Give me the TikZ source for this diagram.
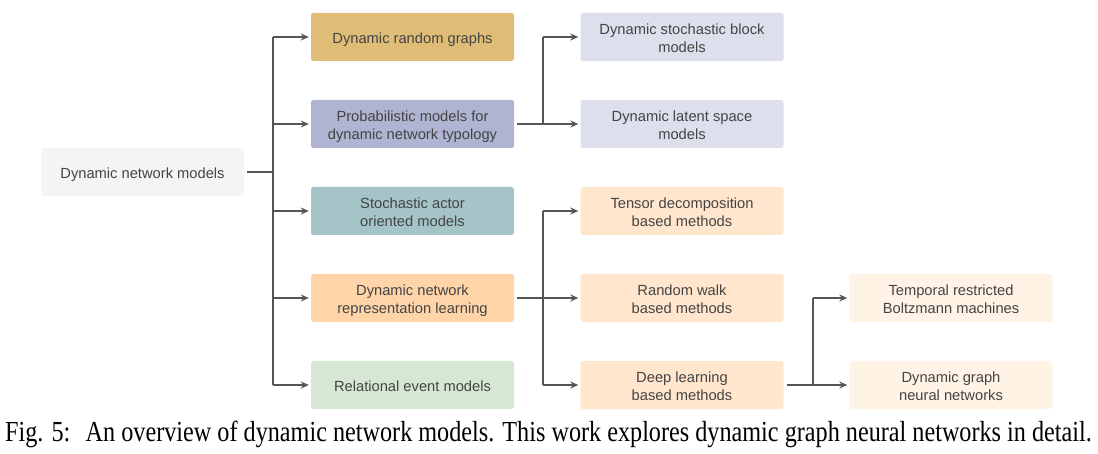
\documentclass[tikz,border=0pt]{standalone}
\usepackage{fontspec}
\setmainfont{Liberation Serif}
\setsansfont{Liberation Sans}
\usetikzlibrary{arrows.meta}
\definecolor{cRoot}{HTML}{F4F4F4}
\definecolor{cDRG}{HTML}{DFBD76}
\definecolor{cPM}{HTML}{AEB4D1}
\definecolor{cSAO}{HTML}{A5C4C8}
\definecolor{cDNRL}{HTML}{FFD4A9}
\definecolor{cREM}{HTML}{D6E8D4}
\definecolor{cBlue}{HTML}{DDE0EC}
\definecolor{cOr}{HTML}{FFE6CC}
\definecolor{cLt}{HTML}{FFF3E6}
\definecolor{cTxt}{HTML}{444444}
\definecolor{cLine}{HTML}{555555}
\newcommand{\bt}[1]{\raisebox{-2.5pt}[\height][\depth]{\begin{tabular}{@{}c@{}}#1\end{tabular}}}
\tikzset{
  box/.style={rounded corners=2.5pt, minimum width=203pt, minimum height=48pt,
    inner sep=0pt, text=cTxt,
    font=\sffamily\fontsize{14.7}{18}\selectfont},
  link/.style={draw=cLine, line width=1.3pt},
  arr/.style={link, -{Stealth[length=8pt,width=7pt]}}
}
\begin{document}
\begin{tikzpicture}[x=1pt,y=-1pt]
\useasboundingbox (0,0) rectangle (1098,454);
\node[box, fill=cRoot] (root) at (142.5,172) {\bt{Dynamic network models}};
\node[box, fill=cDRG] (drg) at (412.5,37) {\bt{Dynamic random graphs}};
\node[box, fill=cPM] (pm) at (412.5,124) {\bt{Probabilistic models for\\dynamic network typology}};
\node[box, fill=cSAO] (sao) at (412.5,211) {\bt{Stochastic actor\\oriented models}};
\node[box, fill=cDNRL] (dnrl) at (412.5,298) {\bt{Dynamic network\\representation learning}};
\node[box, fill=cREM] (rem) at (412.5,385) {\bt{Relational event models}};
\node[box, fill=cBlue] (dsbm) at (682,37) {\bt{Dynamic stochastic block\\models}};
\node[box, fill=cBlue] (dlsm) at (682,124) {\bt{Dynamic latent space\\models}};
\node[box, fill=cOr] (td) at (682,211) {\bt{Tensor decomposition\\based methods}};
\node[box, fill=cOr] (rw) at (682,298) {\bt{Random walk\\based methods}};
\node[box, fill=cOr] (dl) at (682,385) {\bt{Deep learning\\based methods}};
\node[box, fill=cLt] (trbm) at (951,298) {\bt{Temporal restricted\\Boltzmann machines}};
\node[box, fill=cLt] (dgnn) at (951,385) {\bt{Dynamic graph\\neural networks}};
% root connectors
\coordinate (j1) at (273,172);
\draw[link] ([xshift=3pt]root.east) -- (j1);
\draw[link] (273,37) -- (273,385);
\foreach \n in {drg,pm,sao,dnrl,rem} \draw[arr] (273,0 |- \n.west) -- ([xshift=-2pt]\n.west);
% pm connectors
\draw[link] ([xshift=3pt]pm.east) -- (543,124);
\draw[link] (543,37) -- (543,124);
\foreach \n in {dsbm,dlsm} \draw[arr] (543,0 |- \n.west) -- ([xshift=-2pt]\n.west);
% dnrl connectors
\draw[link] ([xshift=3pt]dnrl.east) -- (543,298);
\draw[link] (543,211) -- (543,385);
\foreach \n in {td,rw,dl} \draw[arr] (543,0 |- \n.west) -- ([xshift=-2pt]\n.west);
% dl connectors
\draw[link] ([xshift=3pt]dl.east) -- (813,385);
\draw[link] (813,298) -- (813,385);
\foreach \n in {trbm,dgnn} \draw[arr] (813,0 |- \n.west) -- ([xshift=-2pt]\n.west);
\node[anchor=base west, inner sep=0pt, font=\fontsize{24.2}{28}\selectfont] (cap) at (5,441.5)
  {\scalebox{1}[1.2]{Fig. 5:\hspace{0.3em} An overview of dynamic network models. This work explores dynamic graph neural networks in detail.}};
\end{tikzpicture}
\end{document}
